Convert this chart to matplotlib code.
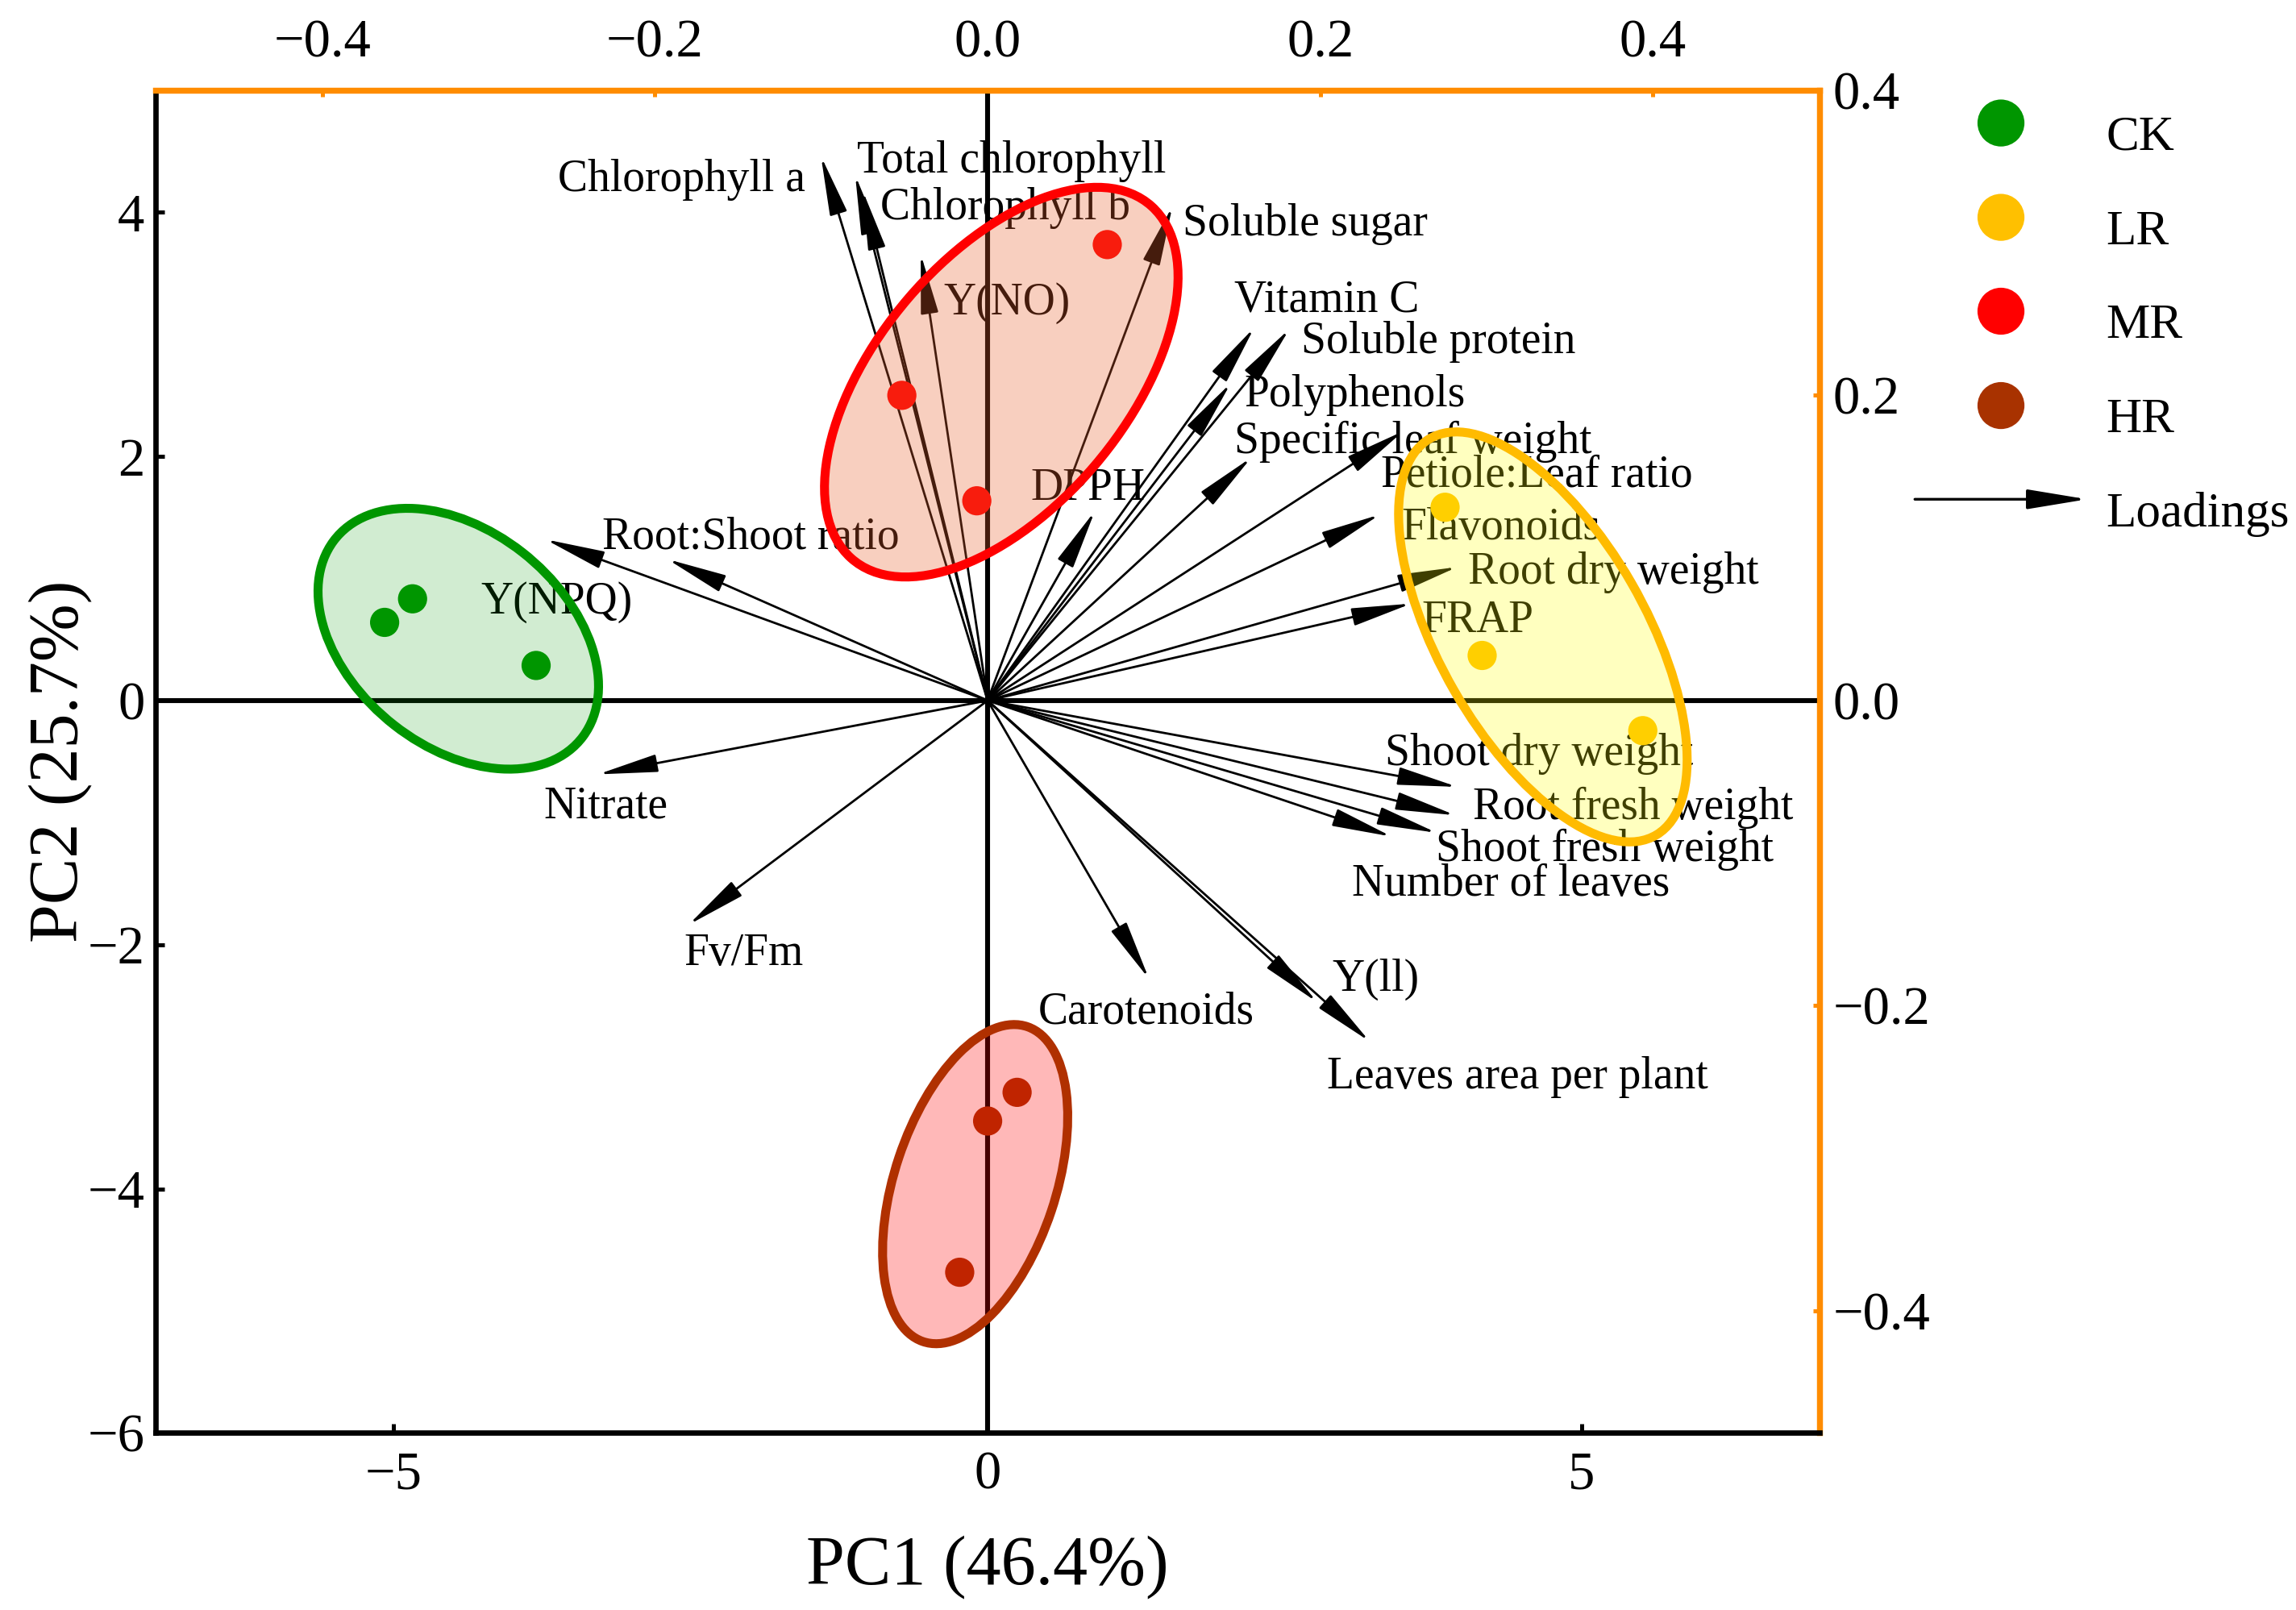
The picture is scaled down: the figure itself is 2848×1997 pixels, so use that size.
import matplotlib
matplotlib.use("Agg")
import matplotlib.pyplot as plt
from matplotlib.patches import Ellipse
from matplotlib.transforms import Affine2D

plt.rcParams['font.family'] = ['Liberation Serif', 'DejaVu Serif']

# ---------------- data ----------------
groups = ["CK", "LR", "MR", "HR"]
group_colors = ["#009600", "#FFC000", "#FF0000", "#A83200"]
edge_colors = ["#009600", "#FFBB00", "#FF0000", "#B03000"]
fill_colors = ["#009600", "#FFFF00", "#E8602C", "#FF0000"]
fill_alpha = [0.18, 0.25, 0.30, 0.28]

score_pc1 = {
    "CK": [-5.075, -4.84, -3.80],
    "LR": [3.85, 4.162, 5.514],
    "MR": [1.007, -0.722, -0.091],
    "HR": [0.248, 0.0, -0.235],
}
score_pc2 = {
    "CK": [0.64, 0.833, 0.287],
    "LR": [1.583, 0.369, -0.247],
    "MR": [3.735, 2.50, 1.636],
    "HR": [-3.21, -3.445, -4.684],
}

# confidence ellipses (centre x, centre y, width, height, angle in degrees)
ell_cx = [-4.455, 4.673, 0.115, -0.105]
ell_cy = [0.506, 0.521, 2.608, -3.962]
ell_w = [2.64, 3.765, 3.835, 2.725]
ell_h = [1.78, 1.733, 2.083, 1.356]
ell_ang = [-37.3, -59.4, 48.7, 71.05]

variables = [
    "Chlorophyll a", "Total chlorophyll", "Chlorophyll b", "Y(NO)", "Soluble sugar",
    "Vitamin C", "Soluble protein", "Polyphenols", "Specific leaf weight",
    "Petiole:Leaf ratio", "Flavonoids", "Root dry weight", "FRAP", "DPPH",
    "Shoot dry weight", "Root fresh weight", "Shoot fresh weight", "Number of leaves",
    "Y(ll)", "Leaves area per plant", "Carotenoids", "Fv/Fm", "Nitrate",
    "Root:Shoot ratio", "Y(NPQ)",
]
load_pc1 = [-0.1002, -0.0796, -0.0752, -0.0402, 0.1111,
            0.1603, 0.1814, 0.1462, 0.1585,
            0.2499, 0.2359, 0.2824, 0.2547, 0.0645,
            0.2824, 0.2812, 0.2700, 0.2429,
            0.1981, 0.2297, 0.0970, -0.1798, -0.2343,
            -0.1925, -0.2659]
load_pc2 = [0.3568, 0.3444, 0.3344, 0.2926, 0.3239,
            0.2444, 0.2434, 0.2080, 0.1592,
            0.1765, 0.1219, 0.0875, 0.0635, 0.1242,
            -0.0566, -0.0752, -0.0867, -0.0892,
            -0.1977, -0.2235, -0.1824, -0.1470, -0.0484,
            0.0926, 0.1056]

# label anchor positions (loading coordinates) and alignment
label_x = [-0.1095, -0.0787, -0.0647, -0.0263, 0.1172,
           0.1483, 0.1884, 0.1541, 0.1483,
           0.2363, 0.2487, 0.2888, 0.2609, 0.0258,
           0.2388, 0.2917, 0.2692, 0.2192,
           0.2069, 0.2040, 0.0306, -0.1824, -0.2670,
           -0.2316, -0.3046]
label_y = [0.3444, 0.3568, 0.3262, 0.2638, 0.3152,
           0.2655, 0.2382, 0.2033, 0.1726,
           0.1506, 0.1162, 0.0870, 0.0553, 0.1420,
           -0.0320, -0.0671, -0.0948, -0.1173,
           -0.1795, -0.2434, -0.2010, -0.1630, -0.0666,
           0.1100, 0.0676]
label_ha = ["right"] + ["left"] * 24

pc1_label = "PC1 (46.4%)"
pc2_label = "PC2 (25.7%)"
xticks = [-5, 0, 5]
yticks = [-6, -4, -2, 0, 2, 4]
sec_ticks = [-0.4, -0.2, 0.0, 0.2, 0.4]

# ---------------- figure ----------------
W, H = 2848, 1997
DPI = 200
fig = plt.figure(figsize=(W / DPI, H / DPI), dpi=DPI)
ax = fig.add_axes([0.0679, 0.110, 0.7245, 0.834])
ax.set_xlim(-7, 7)
ax.set_ylim(-6, 5)

XS = 14.0   # score units per loading unit (x)
YS = 12.5   # score units per loading unit (y)
ORANGE = "#FF8C00"

# zero lines
ax.axhline(0, color="black", lw=2.2, zorder=1)
ax.axvline(0, color="black", lw=2.2, zorder=1)

# loadings arrows
ltrans = Affine2D().scale(XS, YS) + ax.transData
for name, lx, ly, tx, ty, ha in zip(variables, load_pc1, load_pc2,
                                     label_x, label_y, label_ha):
    ax.annotate("", xy=(lx, ly), xytext=(0, 0), xycoords=ltrans, textcoords=ltrans,
                arrowprops=dict(arrowstyle="-|>,head_length=1.15,head_width=0.17",
                                mutation_scale=20, lw=1.0, color="black",
                                shrinkA=0, shrinkB=0),
                zorder=2)
    ax.text(tx, ty, name, transform=ltrans, ha=ha, va="center_baseline",
            fontsize=20, color="black", zorder=3)

# scores
for g, c in zip(groups, group_colors):
    ax.scatter(score_pc1[g], score_pc2[g], s=170, color=c, edgecolors="none", zorder=4)

# ellipses (fill over everything, then outline)
for i in range(len(groups)):
    ax.add_patch(Ellipse((ell_cx[i], ell_cy[i]), ell_w[i], ell_h[i], angle=ell_ang[i],
                         facecolor=fill_colors[i], alpha=fill_alpha[i],
                         edgecolor="none", zorder=5))
    ax.add_patch(Ellipse((ell_cx[i], ell_cy[i]), ell_w[i], ell_h[i], angle=ell_ang[i],
                         facecolor="none", edgecolor=edge_colors[i], lw=4.0, zorder=6))

# primary axes styling
ax.set_xticks(xticks)
ax.set_yticks(yticks)
ax.tick_params(axis="both", direction="in", length=4, width=1.8, labelsize=24,
               colors="black")
ax.tick_params(axis="x", pad=8)
ax.tick_params(axis="y", pad=5)
for side in ("left", "bottom"):
    ax.spines[side].set_linewidth(2.4)
    ax.spines[side].set_color("black")
for side in ("top", "right"):
    ax.spines[side].set_linewidth(2.6)
    ax.spines[side].set_color(ORANGE)

secx = ax.secondary_xaxis("top", functions=(lambda x: x / XS, lambda x: x * XS))
secy = ax.secondary_yaxis("right", functions=(lambda y: y / YS, lambda y: y * YS))
secx.set_xticks(sec_ticks)
secy.set_yticks(sec_ticks)
secx.tick_params(direction="in", length=3, width=1.8, color=ORANGE,
                 labelcolor="black", labelsize=24, pad=10)
secy.tick_params(direction="in", length=3, width=1.8, color=ORANGE,
                 labelcolor="black", labelsize=24, pad=6)
secx.spines["top"].set_color(ORANGE)
secx.spines["top"].set_linewidth(2.6)
secy.spines["right"].set_color(ORANGE)
secy.spines["right"].set_linewidth(2.6)

fig.text(0.4301, 0.0269, pc1_label, ha="center", va="center", fontsize=31)
fig.text(0.0261, 0.527, pc2_label, ha="center", va="center", fontsize=31, rotation=90)

# legend (manual)
lg = fig.add_axes([0, 0, 1, 1], zorder=-1)
lg.set_xlim(0, 1)
lg.set_ylim(0, 1)
lg.axis("off")
leg_y = [0.9236, 0.8650, 0.8067, 0.7481]
lg.scatter([0.8715] * 4, leg_y, s=440, c=group_colors, edgecolors="none")
for g, y in zip(groups, leg_y):
    lg.text(0.9173, y - 0.006, g, ha="left", va="center_baseline", fontsize=22)
lg.annotate("", xy=(0.909, 0.6899), xytext=(0.834, 0.6899),
            arrowprops=dict(arrowstyle="-|>,head_length=1.15,head_width=0.19",
                            mutation_scale=20, lw=1.2, color="black",
                            shrinkA=0, shrinkB=0))
lg.text(0.9173, 0.6899 - 0.006, "Loadings", ha="left", va="center_baseline", fontsize=22)

fig.savefig("out.png", dpi=DPI)
